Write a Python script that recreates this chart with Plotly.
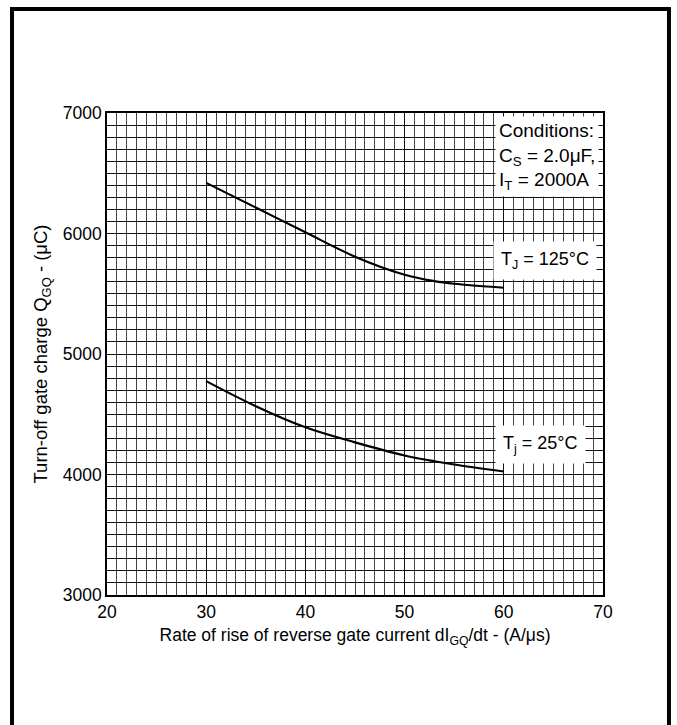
import plotly.graph_objects as go

# Turn-off gate charge vs rate of rise of reverse gate current
di_dt = [30, 35, 40, 45, 50, 53, 55, 60]
qgq_125 = [6420, 6215, 6010, 5808, 5658, 5605, 5583, 5550]
qgq_25 = [4775, 4567, 4392, 4267, 4158, 4110, 4083, 4025]

FONT = "Liberation Sans, Arial, sans-serif"

fig = go.Figure()
for ys in (qgq_125, qgq_25):
    fig.add_trace(go.Scatter(x=di_dt, y=ys, mode="lines",
                             line=dict(color="black", width=2.2, shape="spline"),
                             showlegend=False, hoverinfo="skip"))

axis_common = dict(
    showline=True, linecolor="black", linewidth=1.5, mirror=True,
    ticks="", showgrid=True, gridcolor="#111", gridwidth=1,
    zeroline=False,
    tickfont=dict(family=FONT, size=17.5, color="black"),
)

fig.update_xaxes(range=[20, 70], dtick=10, tick0=20,
                 minor=dict(dtick=1, showgrid=True, gridcolor="#444", gridwidth=1),
                 title=dict(text="Rate of rise of reverse gate current dI<sub>GQ</sub>/dt - (A/μs)",
                            font=dict(family=FONT, size=17.5, color="black"), standoff=8),
                 **axis_common)
fig.update_yaxes(range=[3000, 7000], dtick=1000, tick0=3000,
                 minor=dict(dtick=100, showgrid=True, gridcolor="#111", gridwidth=1),
                 title=dict(text="Turn-off gate charge Q<sub>GQ</sub> - (μC)",
                            font=dict(family=FONT, size=18.5, color="black"), standoff=10),
                 **axis_common)

fig.add_annotation(x=59.1, y=6975, xref="x", yref="y", xanchor="left", yanchor="top",
                   text="Conditions:<br>C<sub>S</sub> = 2.0μF,<br>I<sub>T</sub> = 2000A",
                   showarrow=False, align="left", bgcolor="white", borderpad=3,
                   font=dict(family=FONT, size=19, color="black"))
fig.add_annotation(x=64.2, y=5775, xref="x", yref="y", xanchor="center", yanchor="middle",
                   text="T<sub>J</sub> = 125°C", showarrow=False, bgcolor="white",
                   borderpad=7, font=dict(family=FONT, size=18, color="black"))
fig.add_annotation(x=63.7, y=4250, xref="x", yref="y", xanchor="center", yanchor="middle",
                   text="T<sub>j</sub> = 25°C", showarrow=False, bgcolor="white",
                   borderpad=7, font=dict(family=FONT, size=18, color="black"))

# outer page frame
fig.add_shape(type="path", xref="paper", yref="paper",
              path="M -0.1915 -0.30 L -0.1915 1.2158 L 1.133 1.2158 L 1.133 -0.30",
              line=dict(color="black", width=4))

fig.update_layout(
    width=677, height=725,
    margin=dict(l=107, r=74, t=113, b=130),
    plot_bgcolor="white", paper_bgcolor="white",
    font=dict(family=FONT, color="black"),
)

fig.write_html("out.html")
